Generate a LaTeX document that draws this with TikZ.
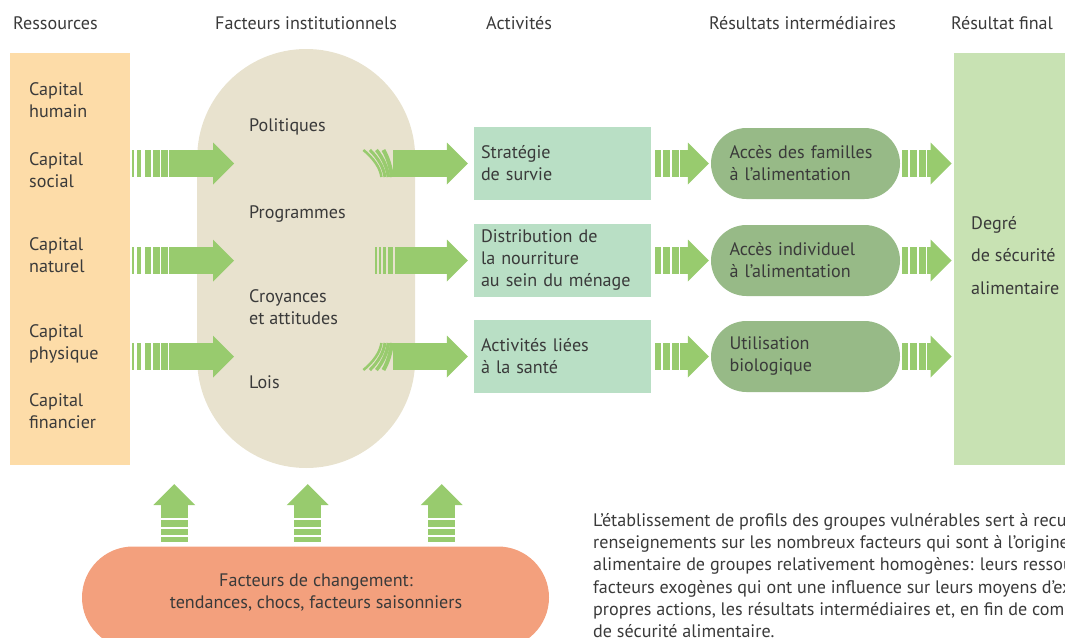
\documentclass[tikz,border=0pt]{standalone}
\usepackage{fontspec}
\setmainfont{PT Sans}
\usetikzlibrary{calc,arrows.meta}

\definecolor{resfill}{HTML}{FDDCA8}
\definecolor{instfill}{HTML}{E8E2CE}
\definecolor{actfill}{HTML}{B9DFC5}
\definecolor{interfill}{HTML}{97BA87}
\definecolor{finalfill}{HTML}{C8E2B3}
\definecolor{changefill}{HTML}{F3A07D}
\definecolor{arrowgreen}{HTML}{98CB6E}
\definecolor{textgray}{HTML}{3A3A3A}

\newcommand\diagfont{\fontsize{18.1}{22}\selectfont}

\tikzset{
  lbl/.style={font=\diagfont, text=textgray, inner sep=0pt, align=left, anchor=base west},
  resbox/.style={fill=resfill, minimum width=120pt, minimum height=412pt, inner sep=0pt},
  instbox/.style={fill=instfill, rounded corners=109pt, minimum width=218pt, minimum height=419pt, inner sep=0pt},
  actbox/.style={fill=actfill, minimum width=177pt, minimum height=73pt, text width=163pt,
    inner xsep=7pt, inner ysep=0pt, align=left, font=\diagfont, text=textgray},
  interbox/.style={fill=interfill, rounded corners=35.5pt, minimum width=189pt, minimum height=71pt,
    text width=152pt, inner xsep=18.5pt, inner ysep=0pt, align=left, font=\diagfont, text=textgray},
  finalbox/.style={fill=finalfill, minimum width=126pt, minimum height=412pt, inner sep=0pt},
  changebox/.style={fill=changefill, rounded corners=51pt, minimum width=467pt, minimum height=102pt, inner sep=0pt},
  fatarrow/.style={draw=arrowgreen, line width=27pt, -{Triangle[length=21pt,width=42pt,line width=0pt]}},
  gapline/.style={draw=white, line width=#1},
  tailstroke/.style={draw=arrowgreen, line width=#1},
}

\begin{document}
\begin{tikzpicture}[x=1pt,y=-1pt]
\useasboundingbox (0,0) rectangle (1065,637);
\clip (0,0) rectangle (1065,637);

% column titles
\node[lbl] (tres) at (13,29) {Ressources};
\node[lbl] (tinst) at (215,29) {Facteurs institutionnels};
\node[lbl] (tact) at (486,29) {Activités};
\node[lbl] (tinter) at (709,29) {Résultats intermédiaires};
\node[lbl] (tfinal) at (951,29) {Résultat final};

% blocks
\node[resbox] (res) at (70,259) {};
\node[instbox] (inst) at (306.2,258.5) {};
\node[actbox] (act1) at (562.5,163.5) {Stratégie\\de survie};
\node[actbox] (act2) at (562.5,260.5) {Distribution de\\la nourriture\\au sein du ménage};
\node[actbox] (act3) at (562.5,356.5) {Activités liées\\à la santé};
\node[interbox] (inter1) at (805.5,163.5) {Accès des familles\\à l’alimentation};
\node[interbox] (inter2) at (805.5,260.5) {Accès individuel\\à l’alimentation};
\node[interbox] (inter3) at (805.5,356.5) {Utilisation\\biologique};
\node[finalbox] (final) at (1017,259) {};
\node[changebox] (change) at (315.5,597.5) {};

% resources (base = last line)
\node[lbl] (hum) at (29,117) {Capital\\humain};
\node[lbl] (soc) at (29,187) {Capital\\social};
\node[lbl] (nat) at (29,272) {Capital\\naturel};
\node[lbl] (phy) at (29,359) {Capital\\physique};
\node[lbl] (fin) at (29,428.5) {Capital\\financier};

% institutional factors
\node[lbl] (pol) at (249,131) {Politiques};
\node[lbl] (prog) at (249,218) {Programmes};
\node[lbl] (croy) at (249,324) {Croyances\\et attitudes};
\node[lbl] (lois) at (249,388) {Lois};

\node[lbl, font=\fontsize{18.1}{32.5}\selectfont] (degre) at (971,294.3) {Degré\\de sécurité\\alimentaire};
\node[lbl, align=center, anchor=center] (chglbl) at (316,593) {Facteurs de changement:\\tendances, chocs, facteurs saisonniers};

% resources -> institutions
\foreach \i in {1,2,3}{
  \coordinate (rs\i) at ($(res.east |- act\i)+(2,0)$);
  \draw[fatarrow] (rs\i) -- ($(inst.west |- act\i)+(37,0)$);
  \foreach \dx/\lw in {3.2/3,11.2/4,19.8/1.7,28.2/1.7,36.3/1.3}
    \draw[gapline=\lw pt] ($(rs\i)+(\dx,-14)$) -- ++(0,28);
}

% institutions -> activities, curved tails
\foreach \i/\sg in {1/1,3/-1}{
  \coordinate (ia\i) at ($(inst.east |- act\i)+(-22,0)$);
  \draw[fatarrow] (ia\i) -- ($(act\i.west)+(-6,0)$);
  \foreach \xt/\xb/\lw in {-30/-12/2.5,-23.5/-8.5/3,-17/-5/3.5,-10/-1.5/4}
    \draw[tailstroke=\lw pt] ($(ia\i)+(\xt,{-13.5*\sg})$)
      .. controls ($(ia\i)+({\xt+0.55*(\xb-\xt)},{-5.5*\sg})$) and ($(ia\i)+({\xb-1},{4.5*\sg})$)
      .. ($(ia\i)+(\xb,{13.5*\sg})$);
}
% middle row, straight tail
\coordinate (ia2) at ($(inst.east |- act2)+(-20,0)$);
\draw[fatarrow] (ia2) -- ($(act2.west)+(-6,0)$);
\foreach \dx/\lw in {-19/2,-15/2,-10.5/3,-4.5/5}
  \draw[tailstroke=\lw pt] ($(ia2)+(\dx,-13.5)$) -- ++(0,27);

% activities -> intermediate results -> final result
\foreach \i in {1,2,3}{
  \coordinate (as\i) at ($(act\i.east)+(4,0)$);
  \draw[fatarrow] (as\i) -- ($(inter\i.west)+(-2,0)$);
  \coordinate (ts\i) at ($(inter\i.east)+(2,0)$);
  \draw[fatarrow] (ts\i) -- ($(final.west |- ts\i)+(-2.3,0)$);
  \foreach \dx in {6.7,15.7,24.3}{
    \draw[gapline=1.5pt] ($(as\i)+(\dx,-14)$) -- ++(0,28);
    \draw[gapline=1.5pt] ($(ts\i)+(\dx,-14)$) -- ++(0,28);
  }
}

% drivers of change -> institutions
\foreach \x [count=\i] in {174.3,307.7,441.7}{
  \coordinate (up\i) at (change.north -| \x,0);
  \draw[fatarrow] (up\i) -- ++(0,-62.2);
  \foreach \dy/\lw in {27.2/1.7,18.5/1.6,10/2,2.3/4}
    \draw[gapline=\lw pt] ($(up\i)+(-14,-\dy)$) -- ++(28,0);
}

\node[lbl, font=\fontsize{18.1}{22.1}\selectfont] (note) at (593,637.2)
  {L’établissement de profils des groupes vulnérables sert à recueillir\\
   renseignements sur les nombreux facteurs qui sont à l’origine\\
   alimentaire de groupes relativement homogènes: leurs ressources\\
   facteurs exogènes qui ont une influence sur leurs moyens d’existence\\
   propres actions, les résultats intermédiaires et, en fin de compte\\
   de sécurité alimentaire.};
\end{tikzpicture}
\end{document}
